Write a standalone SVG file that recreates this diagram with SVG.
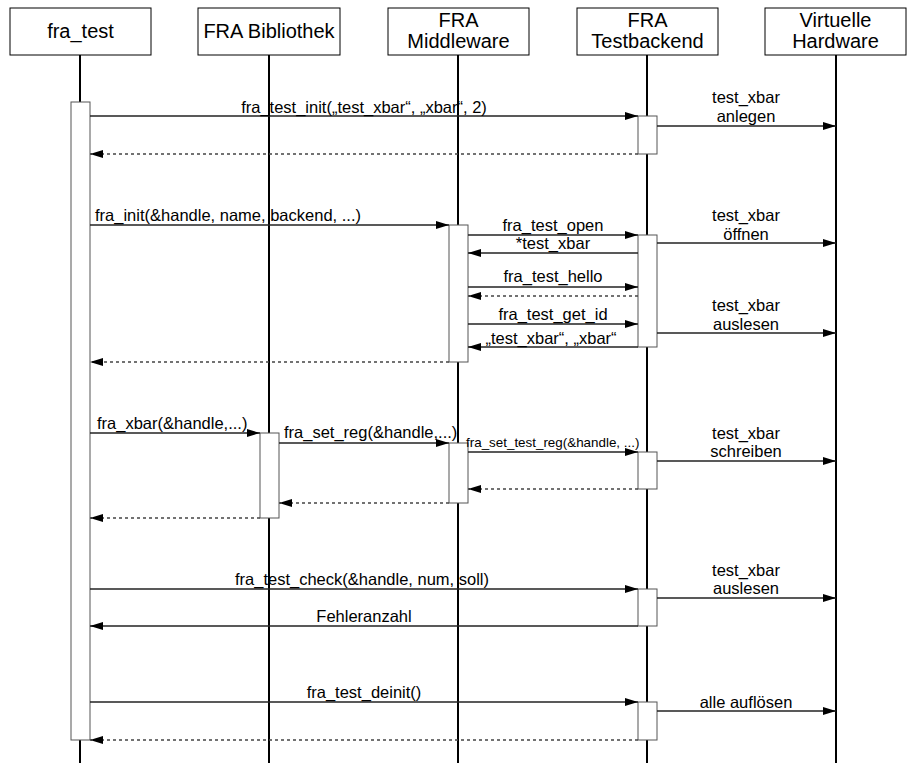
<svg xmlns="http://www.w3.org/2000/svg" width="914" height="767" viewBox="0 0 914 767">
<defs>
<marker id="ah" viewBox="0 0 13 8" refX="13" refY="4" markerWidth="13" markerHeight="8" markerUnits="userSpaceOnUse" orient="auto"><path d="M0,0 L13,4 L0,8 Z" fill="#000"/></marker>
<style>
.hd{fill:#fff;stroke:#000;stroke-width:1}
.ht{font-family:"Liberation Sans",Arial,sans-serif;font-size:20px;text-anchor:middle;fill:#000}
.ll{stroke:#000;stroke-width:2;fill:none}
.act{fill:#fff;stroke:#555;stroke-width:1}
.m{stroke:#222;stroke-width:1.3;fill:none;marker-end:url(#ah)}
.r{stroke:#444;stroke-width:1.3;fill:none;stroke-dasharray:3,3;marker-end:url(#ah)}
.t{font-family:"Liberation Sans",Arial,sans-serif;font-size:16.5px;text-anchor:middle;fill:#000}
.tl{text-anchor:start}
.sm{font-size:13.4px}
</style>
</defs>
<g id="lifelines">
<line class="ll" x1="80" y1="55" x2="80" y2="763"/>
<line class="ll" x1="269" y1="55" x2="269" y2="763"/>
<line class="ll" x1="458" y1="55" x2="458" y2="763"/>
<line class="ll" x1="647" y1="55" x2="647" y2="763"/>
<line class="ll" x1="836" y1="55" x2="836" y2="763"/>
</g>
<g id="fra_test"><rect class="hd" x="10" y="8" width="141" height="47"/><text class="ht" x="80.5" y="38">fra_test</text></g>
<g id="fra_bibliothek"><rect class="hd" x="198" y="8" width="142" height="47"/><text class="ht" x="269" y="38">FRA Bibliothek</text></g>
<g id="fra_middleware"><rect class="hd" x="388" y="8" width="141" height="47"/><text class="ht" x="458.5" y="27">FRA</text><text class="ht" x="458.5" y="48">Middleware</text></g>
<g id="fra_testbackend"><rect class="hd" x="577" y="8" width="141" height="47"/><text class="ht" x="647.5" y="27">FRA</text><text class="ht" x="647.5" y="48">Testbackend</text></g>
<g id="virtuelle_hardware"><rect class="hd" x="765" y="8" width="141" height="47"/><text class="ht" x="835.5" y="27">Virtuelle</text><text class="ht" x="835.5" y="48">Hardware</text></g>
<g id="activations">
<rect class="act" x="71" y="102" width="19" height="638"/>
<rect class="act" x="638" y="116" width="19" height="38"/>
<rect class="act" x="449" y="225" width="19" height="137"/>
<rect class="act" x="638" y="235" width="19" height="112"/>
<rect class="act" x="260" y="433" width="19" height="85"/>
<rect class="act" x="449" y="443" width="19" height="60"/>
<rect class="act" x="638" y="452" width="19" height="37"/>
<rect class="act" x="638" y="589" width="19" height="37"/>
<rect class="act" x="638" y="702" width="19" height="38"/>
</g>
<g id="connectors">
<line class="m" x1="90" y1="116" x2="638" y2="116"/>
<line class="r" x1="638" y1="154" x2="90" y2="154"/>
<line class="m" x1="657" y1="126" x2="836" y2="126"/>
<line class="m" x1="90" y1="225" x2="449" y2="225"/>
<line class="m" x1="468" y1="235" x2="638" y2="235"/>
<line class="m" x1="638" y1="253" x2="468" y2="253"/>
<line class="m" x1="657" y1="243" x2="836" y2="243"/>
<line class="m" x1="468" y1="287" x2="638" y2="287"/>
<line class="r" x1="638" y1="296" x2="468" y2="296"/>
<line class="m" x1="468" y1="324" x2="638" y2="324"/>
<line class="m" x1="657" y1="333" x2="836" y2="333"/>
<line class="m" x1="638" y1="347" x2="468" y2="347"/>
<line class="r" x1="449" y1="362" x2="90" y2="362"/>
<line class="m" x1="90" y1="433" x2="260" y2="433"/>
<line class="m" x1="279" y1="443" x2="449" y2="443"/>
<line class="m" x1="468" y1="452" x2="638" y2="452"/>
<line class="m" x1="657" y1="461" x2="836" y2="461"/>
<line class="r" x1="638" y1="489" x2="468" y2="489"/>
<line class="r" x1="449" y1="503" x2="279" y2="503"/>
<line class="r" x1="260" y1="518" x2="90" y2="518"/>
<line class="m" x1="90" y1="589" x2="638" y2="589"/>
<line class="m" x1="657" y1="598" x2="836" y2="598"/>
<line class="m" x1="638" y1="626" x2="90" y2="626"/>
<line class="m" x1="90" y1="702" x2="638" y2="702"/>
<line class="m" x1="657" y1="711" x2="836" y2="711"/>
<line class="r" x1="638" y1="740" x2="90" y2="740"/>
</g>
<g id="labels">
<text class="t" x="364" y="113">fra_test_init(„test_xbar“, „xbar“, 2)</text>
<text class="t" x="746" y="103">test_xbar</text><text class="t" x="746" y="122">anlegen</text>
<text class="t tl" x="95" y="221">fra_init(&amp;handle, name, backend, ...)</text>
<text class="t" x="553" y="231">fra_test_open</text>
<text class="t" x="553" y="249">*test_xbar</text>
<text class="t" x="746" y="221">test_xbar</text><text class="t" x="746" y="240">öffnen</text>
<text class="t" x="553" y="282">fra_test_hello</text>
<text class="t" x="553" y="320">fra_test_get_id</text>
<text class="t" x="746" y="311">test_xbar</text><text class="t" x="746" y="330">auslesen</text>
<text class="t" x="551" y="344">„test_xbar“, „xbar“</text>
<text class="t tl" x="97" y="429">fra_xbar(&amp;handle,...)</text>
<text class="t tl" x="284" y="438">fra_set_reg(&amp;handle,...)</text>
<text class="t tl sm" x="466" y="447">fra_set_test_reg(&amp;handle, ...)</text>
<text class="t" x="746" y="439">test_xbar</text><text class="t" x="746" y="457">schreiben</text>
<text class="t" x="362" y="585">fra_test_check(&amp;handle, num, soll)</text>
<text class="t" x="746" y="576">test_xbar</text><text class="t" x="746" y="594">auslesen</text>
<text class="t" x="364" y="622">Fehleranzahl</text>
<text class="t" x="364" y="698">fra_test_deinit()</text>
<text class="t" x="746" y="708">alle auflösen</text>
</g>
</svg>
